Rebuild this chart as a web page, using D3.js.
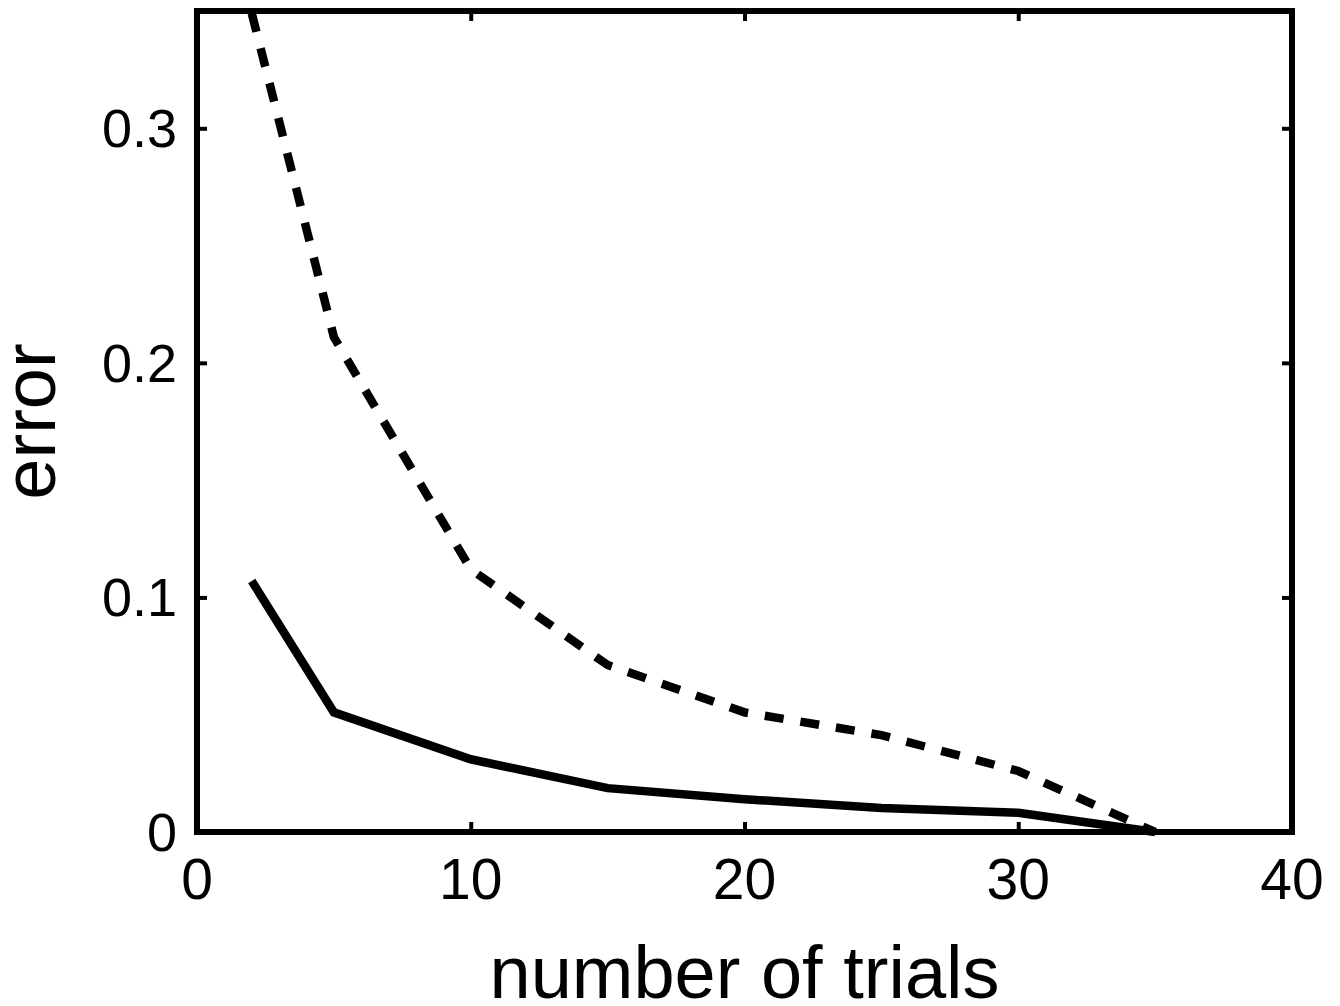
<!DOCTYPE html>
<html>
<head>
<meta charset="utf-8">
<script src="https://cdn.jsdelivr.net/npm/d3@7"></script>
<style>
  body { margin: 0; background: #fff; }
  text { font-family: "Liberation Sans", Arial, sans-serif; fill: #000; }
</style>
</head>
<body>
<div id="chart"></div>
<script>
// Data
const trials = [2, 5, 10, 15, 20, 25, 30, 35];
const solidErr = [0.107, 0.051, 0.031, 0.0187, 0.014, 0.0102, 0.0082, 0];
const dashedErr = [0.349, 0.211, 0.112, 0.0712, 0.051, 0.0413, 0.026, 0];
const xTicks = [0, 10, 20, 30, 40];
const yTicks = [0, 0.1, 0.2, 0.3];

// Plot box
let margin = {top: 11, right: 48, bottom: 174, left: 197};
let width = 1340 - margin.left - margin.right;   // 1095
let height = 1006 - margin.top - margin.bottom;  // 821

let svg = d3.select("#chart").append("svg")
    .attr("width", 1340)
    .attr("height", 1006)
    .append("g")
    .attr("transform", `translate(${margin.left},${margin.top})`);

const xScale = d3.scaleLinear().domain([0, 40]).range([0, width]);
const yScale = d3.scaleLinear().domain([0, 0.35]).range([height, 0]);

// Inward ticks, MATLAB style, on all four sides
const tickLen = 10;
const axStyle = g => {
    g.select(".domain").remove();
    g.selectAll(".tick line").attr("stroke", "#000").attr("stroke-width", 4);
    g.selectAll(".tick text").remove();
};

svg.append("g")
    .attr("transform", `translate(0,${height})`)
    .call(d3.axisBottom(xScale).tickValues(xTicks).tickSize(-tickLen))
    .call(axStyle);
svg.append("g")
    .call(d3.axisTop(xScale).tickValues(xTicks).tickSize(-tickLen))
    .call(axStyle);
svg.append("g")
    .call(d3.axisLeft(yScale).tickValues(yTicks).tickSize(-tickLen))
    .call(axStyle);
svg.append("g")
    .attr("transform", `translate(${width},0)`)
    .call(d3.axisRight(yScale).tickValues(yTicks).tickSize(-tickLen))
    .call(axStyle);

// Tick labels
svg.selectAll(".xlab")
    .data(xTicks)
    .enter().append("text")
    .attr("class", "xlab")
    .attr("x", d => xScale(d))
    .attr("y", height + 67)
    .attr("text-anchor", "middle")
    .style("font-size", "57px")
    .text(d => d);

svg.selectAll(".ylab")
    .data(yTicks)
    .enter().append("text")
    .attr("class", "ylab")
    .attr("x", -20)
    .attr("y", d => yScale(d) + 19)
    .attr("text-anchor", "end")
    .style("font-size", "54px")
    .text(d => d);

// Axis titles
svg.append("text")
    .attr("x", width / 2)
    .attr("y", height + 166)
    .attr("text-anchor", "middle")
    .style("font-size", "74px")
    .text("number of trials");

svg.append("text")
    .attr("transform", `translate(-142,${height / 2}) rotate(-90)`)
    .attr("text-anchor", "middle")
    .style("font-size", "74px")
    .text("error");

// Lines
const line = d3.line()
    .x((d, i) => xScale(trials[i]))
    .y(d => yScale(d));

svg.append("path")
    .datum(dashedErr)
    .attr("fill", "none")
    .attr("stroke", "#000")
    .attr("stroke-width", 8.5)
    .attr("stroke-dasharray", "19,17")
    .attr("stroke-linejoin", "miter")
    .attr("d", line);

svg.append("path")
    .datum(solidErr)
    .attr("fill", "none")
    .attr("stroke", "#000")
    .attr("stroke-width", 8.5)
    .attr("stroke-linejoin", "miter")
    .attr("d", line);

// Box
svg.append("rect")
    .attr("x", 0)
    .attr("y", 0)
    .attr("width", width)
    .attr("height", height)
    .attr("fill", "none")
    .attr("stroke", "#000")
    .attr("stroke-width", 6);
</script>
</body>
</html>
